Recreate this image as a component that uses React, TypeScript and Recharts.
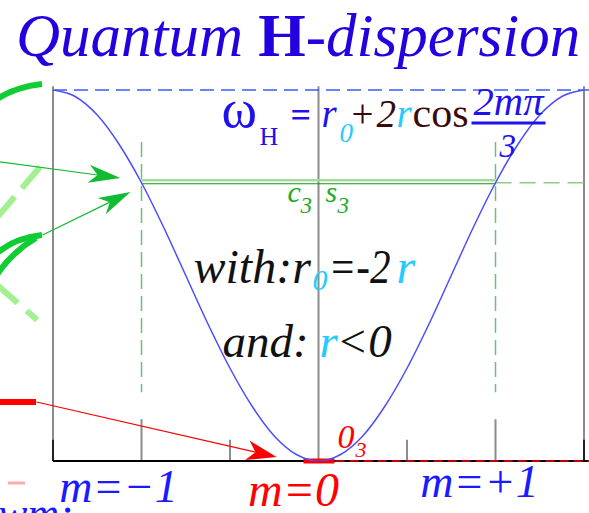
import { ComposedChart, Line, XAxis, YAxis, ReferenceLine, ReferenceDot } from 'recharts'

// dispersion omega_H(m), in units of |r|
const mValues = [
  -1.5, -1.375, -1.25, -1.125, -1, -0.875, -0.75, -0.625, -0.5, -0.375, -0.25, -0.125, 0,
  0.125, 0.25, 0.375, 0.5, 0.625, 0.75, 0.875, 1, 1.125, 1.25, 1.375, 1.5,
]
const omegaValues = [
  4, 3.93, 3.73, 3.41, 3, 2.52, 2, 1.48, 1, 0.59, 0.27, 0.07, 0,
  0.07, 0.27, 0.59, 1, 1.48, 2, 2.52, 3, 3.41, 3.73, 3.93, 4,
]

const tickValues = [-1, 0, 1]
const tickLabels = ['m=−1', 'm=0', 'm=+1']

const omegaTop = 4
const omegaC3 = 3

const serif = '"Liberation Serif", "DejaVu Serif", serif'
const blue = '#1f10ee'
const cyan = '#22ccff'
const brown = '#3a0a0a'
const red = '#ff0000'
const gray = '#8c8c8c'

const tickStyle = [
  { color: '#1a1aff', size: 46, dx: -23, dy: 41 },
  { color: red, size: 48, dx: -25, dy: 45 },
  { color: '#1a1aff', size: 46, dx: -16, dy: 36 },
]

const data = mValues.map((m, i) => ({ m, omega: omegaValues[i] }))

function MTick(props: any) {
  const { x, y, payload } = props
  const i = tickValues.indexOf(payload.value)
  if (i < 0) return null
  const s = tickStyle[i]
  return (
    <text
      x={x + s.dx}
      y={y + s.dy}
      textAnchor="middle"
      fontFamily={serif}
      fontStyle="italic"
      fontSize={s.size}
      fill={s.color}
    >
      {tickLabels[i]}
    </text>
  )
}

function arrow(color: string, head: number, half: number) {
  return (p: any) => {
    const { x1, y1, x2, y2 } = p
    const len = Math.hypot(x2 - x1, y2 - y1)
    const ux = (x2 - x1) / len
    const uy = (y2 - y1) / len
    const bx = x2 - ux * head
    const by = y2 - uy * head
    const nx = x2 - ux * head * 0.72
    const ny = y2 - uy * head * 0.72
    const pts = [
      [x2, y2],
      [bx - uy * half, by + ux * half],
      [nx, ny],
      [bx + uy * half, by - ux * half],
    ]
    return (
      <g>
        <line x1={x1} y1={y1} x2={nx} y2={ny} stroke={color} strokeWidth={1.2} />
        <polygon points={pts.map((q) => q.join(',')).join(' ')} fill={color} />
      </g>
    )
  }
}

function C3Line(p: any) {
  const { x1, y1, x2 } = p
  return (
    <g>
      <line x1={x1} y1={y1 - 2.5} x2={x2} y2={y1 - 2.5} stroke="#a3d8a3" strokeWidth={2.5} />
      <line x1={x1} y1={y1 + 1} x2={x2} y2={y1 + 1} stroke="#0a9a0a" strokeWidth={1.2} />
    </g>
  )
}

function Formula({ cx, cy }: any) {
  return (
    <g fontFamily={serif}>
      <text x={cx - 97} y={cy} fontSize={54} fill={blue}>ω</text>
      <text x={cx - 59} y={cy + 18} fontSize={26} fill={blue}>H</text>
      <text x={cx - 28} y={cy} fontSize={36} fill={blue} fontWeight="bold">=</text>
      <text y={cy} fontSize={39}>
        <tspan x={cx + 3} fill={blue} fontStyle="italic">r</tspan>
        <tspan x={cx + 21} dy={15} fill={cyan} fontStyle="italic" fontSize={27}>0</tspan>
        <tspan x={cx + 33} dy={-15} fill={brown}>+</tspan>
        <tspan x={cx + 58} fill={brown} fontStyle="italic">2</tspan>
        <tspan x={cx + 78} fill={cyan} fontStyle="italic">r</tspan>
        <tspan x={cx + 94} fill={brown} textLength={56} lengthAdjust="spacingAndGlyphs">cos</tspan>
      </text>
      <text x={cx + 155} y={cy - 12} fontSize={40} fill={blue} fontStyle="italic" textLength={70} lengthAdjust="spacingAndGlyphs">2mπ</text>
      <line x1={cx + 153} y1={cy - 4} x2={cx + 227} y2={cy - 4} stroke={blue} strokeWidth={3} />
      <text x={cx + 181} y={cy + 30} fontSize={33} fill={blue} fontStyle="italic">3</text>
    </g>
  )
}

function C3S3({ cx, cy }: any) {
  return (
    <g fontFamily={serif} fontStyle="italic" fill="#22aa22">
      <text x={cx - 31} y={cy + 19} fontSize={30}>c</text>
      <text x={cx - 18} y={cy + 30} fontSize={23}>3</text>
      <text x={cx + 7} y={cy + 19} fontSize={30}>s</text>
      <text x={cx + 19} y={cy + 30} fontSize={23}>3</text>
    </g>
  )
}

function WithNote({ cx, cy }: any) {
  return (
    <text y={cy} fontFamily={serif} fontStyle="italic" fontSize={48} fill="#111">
      <tspan x={cx - 125}>with:r</tspan>
      <tspan x={cx - 6} dy={7} fill={cyan} fontSize={30}>0</tspan>
      <tspan x={cx + 10} dy={-7} textLength={62} lengthAdjust="spacingAndGlyphs">=-2</tspan>
      <tspan x={cx + 78} fill={cyan}>r</tspan>
    </text>
  )
}

function AndNote({ cx, cy }: any) {
  return (
    <text y={cy} fontFamily={serif} fontStyle="italic" fontSize={47} fill="#111">
      <tspan x={cx - 96}>and:</tspan>
      <tspan x={cx + 1} fill={cyan}>r</tspan>
      <tspan x={cx + 18}>{'<0'}</tspan>
    </text>
  )
}

function ZeroNote({ cx, cy }: any) {
  return (
    <g fontFamily={serif} fontStyle="italic" fill={red}>
      <text x={cx + 19} y={cy - 13} fontSize={34}>0</text>
      <text x={cx + 37} y={cy - 4} fontSize={22}>3</text>
    </g>
  )
}

// pieces of the neighbouring sketch that reach into this panel
function SideSketch() {
  return (
    <svg width={589} height={513} style={{ position: 'absolute', left: 0, top: 0 }}>
      <path d="M -6 101 Q 14 87 42 84" stroke="#11cc33" strokeWidth={6} fill="none" />
      <line x1={40} y1={167} x2={-12} y2={228} stroke="#a3f08f" strokeWidth={6} strokeDasharray="28 11" />
      <line x1={-20} y1={270} x2={44} y2={326} stroke="#a3f08f" strokeWidth={6} strokeDasharray="14 10 26 12" />
      <path d="M -4 254 Q 14 238 42 235" stroke="#11cc33" strokeWidth={6} fill="none" />
      <path d="M -4 276 Q 12 252 36 238" stroke="#11cc33" strokeWidth={6} fill="none" />
      <line x1={0} y1={402} x2={36} y2={402} stroke={red} strokeWidth={6} />
      <line x1={8} y1={483} x2={25} y2={483} stroke="#ffaaaa" strokeWidth={3} />
      <text x={-2} y={528} fontFamily={serif} fontStyle="italic" fontSize={44} fill="#1a1aff">wm:</text>
      <text y={56} fontFamily={serif} fontSize={61} fill="#2200e0">
        <tspan x={16} fontStyle="italic">Quantum </tspan>
        <tspan fontWeight="bold">H</tspan>
        <tspan fontStyle="italic">-dispersion</tspan>
      </text>
    </svg>
  )
}

export default function App() {
  return (
    <div style={{ position: 'absolute', left: 0, top: 0, width: 589, height: 513, background: '#fff' }}>
      <SideSketch />
      <div style={{ position: 'absolute', left: 0, top: 0 }}>
        <ComposedChart
          width={589}
          height={513}
          data={data}
          margin={{ top: 90, right: 5, left: 53, bottom: 0 }}
        >
          <XAxis
            dataKey="m"
            type="number"
            domain={[-1.5, 1.5]}
            allowDataOverflow
            ticks={tickValues}
            interval={0}
            tickLine={false}
            axisLine={false}
            tickSize={0}
            tickMargin={0}
            height={52}
            tick={(p: any) => <MTick {...p} />}
          />
          <YAxis type="number" domain={[0, omegaTop]} hide allowDataOverflow />

          {/* frame and m grid */}
          {[-1.5, 0, 1.5].map((m) => (
            <ReferenceLine key={`v${m}`} segment={[{ x: m, y: 0 }, { x: m, y: omegaTop + 0.04 }]} stroke={gray} strokeWidth={2} ifOverflow="visible" />
          ))}
          {[-1, 1].map((m) => (
            <ReferenceLine key={`t${m}`} segment={[{ x: m, y: 0 }, { x: m, y: 0.45 }]} stroke={gray} strokeWidth={2} ifOverflow="visible" />
          ))}
          {[-0.5, 0.5].map((m) => (
            <ReferenceLine key={`h${m}`} segment={[{ x: m, y: 0 }, { x: m, y: 0.23 }]} stroke={gray} strokeWidth={2} ifOverflow="visible" />
          ))}
          {[-1.5, 1.5].map((m) => (
            <ReferenceLine key={`e${m}`} segment={[{ x: m, y: 0 }, { x: m, y: 0.23 }]} stroke="#222" strokeWidth={2} ifOverflow="visible" />
          ))}

          <ReferenceLine segment={[{ x: -1.5, y: omegaTop }, { x: 1.53, y: omegaTop }]} stroke="#3b5bff" strokeWidth={1.3} strokeDasharray="14 7" ifOverflow="visible" />

          {/* c3 s3 level */}
          {[-1, 1].map((m) => (
            <ReferenceLine key={`g${m}`} segment={[{ x: m, y: 3.44 }, { x: m, y: 0.74 }]} stroke="#6cbf7a" strokeWidth={1.5} strokeDasharray="15 7" ifOverflow="visible" />
          ))}
          <ReferenceLine segment={[{ x: -1, y: omegaC3 }, { x: 1, y: omegaC3 }]} shape={C3Line} ifOverflow="visible" />
          <ReferenceLine segment={[{ x: 1, y: omegaC3 }, { x: 1.53, y: omegaC3 }]} stroke="#8fcc85" strokeWidth={1.5} strokeDasharray="16 8" ifOverflow="visible" />

          {/* baseline with the 0_3 level */}
          <ReferenceLine segment={[{ x: -1.5, y: 0 }, { x: 1.53, y: 0 }]} stroke="#000" strokeWidth={2} ifOverflow="visible" />
          <ReferenceLine segment={[{ x: 0.096, y: 0 }, { x: 1.53, y: 0 }]} stroke={red} strokeWidth={1.5} strokeDasharray="9 5" ifOverflow="visible" />
          <ReferenceLine segment={[{ x: -0.085, y: 0 }, { x: 0.09, y: 0 }]} stroke={red} strokeWidth={5} ifOverflow="visible" />

          {/* arrows from the side sketch */}
          <ReferenceLine segment={[{ x: -1.853, y: 3.238 }, { x: -1.119, y: 3.051 }]} shape={arrow('#11bb33', 32, 9)} ifOverflow="visible" />
          <ReferenceLine segment={[{ x: -1.559, y: 2.437 }, { x: -1.062, y: 2.9 }]} shape={arrow('#11bb33', 32, 9)} ifOverflow="visible" />
          <ReferenceLine segment={[{ x: -1.593, y: 0.636 }, { x: -0.237, y: 0.043 }]} shape={arrow(red, 30, 10)} ifOverflow="visible" />

          <Line
            type="monotone"
            dataKey="omega"
            stroke="#4d4dff"
            strokeWidth={1.5}
            dot={false}
            activeDot={false}
            isAnimationActive={false}
          />

          <ReferenceDot x={0} y={3.6} r={0} ifOverflow="visible" shape={Formula} />
          <ReferenceDot x={0} y={omegaC3} r={0} ifOverflow="visible" shape={C3S3} />
          <ReferenceDot x={0} y={1.919} r={0} ifOverflow="visible" shape={WithNote} />
          <ReferenceDot x={0} y={1.121} r={0} ifOverflow="visible" shape={AndNote} />
          <ReferenceDot x={0} y={0} r={0} ifOverflow="visible" shape={ZeroNote} />
        </ComposedChart>
      </div>
    </div>
  )
}
